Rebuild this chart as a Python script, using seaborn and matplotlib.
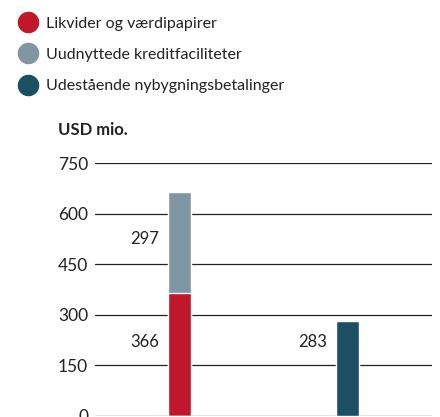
import matplotlib
matplotlib.use('Agg')
import matplotlib.pyplot as plt
from matplotlib.lines import Line2D
import seaborn as sns
import pandas as pd

# data
categories = ['Likviditet', 'Forpligtelser']
likvider = [366, 0]
kredit = [297, 0]
nybyg = [0, 283]
series_names = ['Likvider og værdipapirer', 'Uudnyttede kreditfaciliteter',
                'Udestående nybygningsbetalinger']
colors = ['#C0182A', '#8096A3', '#1D4F63']
yticks = [0, 150, 300, 450, 600, 750]

df = pd.DataFrame({'cat': categories, 'likvider': likvider,
                   'kredit': kredit, 'nybyg': nybyg})
df['total'] = df['likvider'] + df['kredit']

sns.set_style('white')
plt.rcParams['font.family'] = ['Lato', 'DejaVu Sans']

fig = plt.figure(figsize=(4.4, 4.17), dpi=100)
ax = fig.add_axes([95/440, 1/417, 337/440, 253/417])

# stacked bars: total first, then bottom segment on top of it
bw = 0.137
sns.barplot(data=df, x='cat', y='total', color=colors[1], width=bw, ax=ax, saturation=1, zorder=3)
sns.barplot(data=df, x='cat', y='likvider', color=colors[0], width=bw, ax=ax, saturation=1, zorder=3)
sns.barplot(data=df, x='cat', y='nybyg', color=colors[2], width=bw, ax=ax, saturation=1, zorder=3)

ax.set_xlim(-0.5, 1.5)
ax.set_ylim(0, 750)
ax.set_yticks(yticks)
ax.yaxis.grid(True, color='#222222', linewidth=0.9, zorder=0)
ax.set_axisbelow(True)
ax.tick_params(axis='y', length=0, pad=5, labelsize=12.5, colors='#222222')
ax.set_xticks([])
ax.set_xlabel('')
ax.set_ylabel('')
for s in ax.spines.values():
    s.set_visible(False)

# value labels to the left of the bars
for i in range(len(categories)):
    if likvider[i]:
        ax.text(i - 0.12, 220, str(likvider[i]), ha='right', va='center', fontsize=12, color='#222222')
    if kredit[i]:
        ax.text(i - 0.12, 525, str(kredit[i]), ha='right', va='center', fontsize=12, color='#222222')
    if nybyg[i]:
        ax.text(i - 0.12, 220, str(nybyg[i]), ha='right', va='center', fontsize=12, color='#222222')

fig.text(58/440, 1 - 130/417, 'USD mio.', fontsize=12, fontweight='bold', va='center', ha='left', color='#222222')

handles = [Line2D([], [], marker='o', linestyle='', markersize=14.5, markerfacecolor=c,
                  markeredgecolor=c) for c in colors]
fig.legend(handles, series_names, loc='upper left', bbox_to_anchor=(11/440, 1 - 10/417),
           frameon=False, fontsize=11.5, handletextpad=0.5, labelspacing=1.08,
           borderaxespad=0, handlelength=1.3, labelcolor='#222222')

fig.savefig('out.png', dpi=100)
